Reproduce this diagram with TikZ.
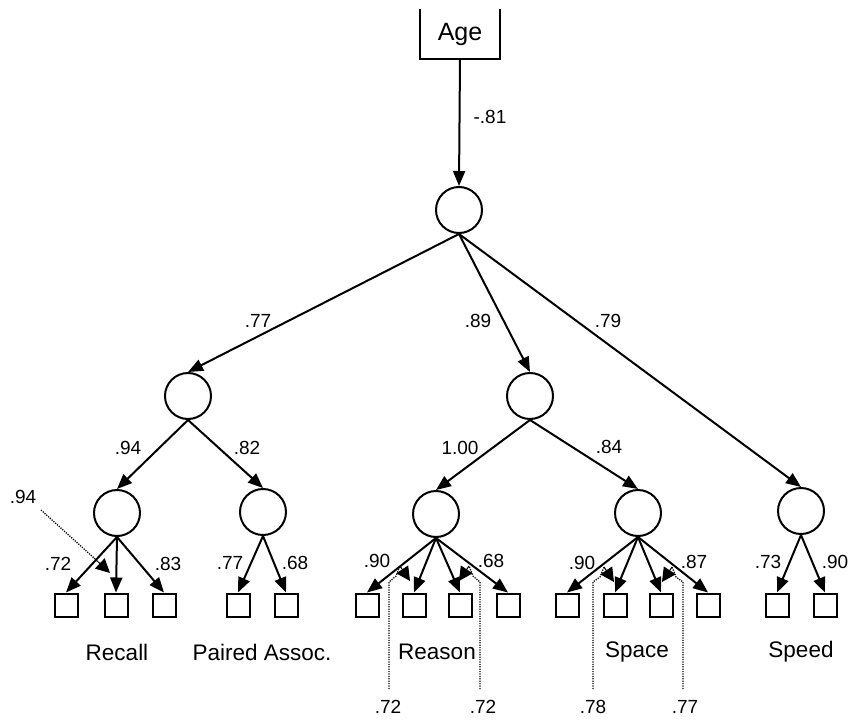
\documentclass[tikz,border=0pt]{standalone}
\usepackage{fontspec}
\setmainfont{Liberation Sans}
\usetikzlibrary{arrows.meta}
\begin{document}
\begin{tikzpicture}[x=1pt,y=-1pt,
 lat/.style={circle,draw,line width=2pt,minimum size=46pt,inner sep=0pt},
 obs/.style={rectangle,draw,line width=2pt,minimum size=23pt,inner sep=0pt},
 pth/.style={line width=2pt,-{Triangle[length=15pt,width=12pt]}},
 lead/.style={line width=1.3pt,dash pattern=on 1.2pt off 1.2pt},
 leadtip/.style={line width=1pt,solid,-{Triangle[length=14pt,width=14pt]}},
 num/.style={font=\fontsize{19}{21}\selectfont,inner sep=0pt},
 lab/.style={font=\fontsize{22.5}{25}\selectfont,inner sep=0pt}]
\useasboundingbox (0,0) rectangle (852,720);

% Age box (open top)
\node[minimum width=80pt,minimum height=49pt,inner sep=0pt,font=\fontsize{25}{27}\selectfont] (age) at (460,34) {Age};
\draw[line width=2pt] (age.north west) -- (age.south west) -- (age.south east) -- (age.north east);

% latent variables
\node[lat] (g) at (459,210) {};
\node[lat] (mem) at (188,396) {};
\node[lat] (rs) at (530,396) {};
\node[lat] (rec) at (117,513) {};
\node[lat] (pa) at (263,512) {};
\node[lat] (rea) at (436,514) {};
\node[lat] (spa) at (638,513) {};
\node[lat] (spd) at (801,511) {};

% observed variables
\foreach \n/\x in {rec1/66,rec2/116,rec3/164,pa1/238,pa2/286,rea1/367,rea2/414,rea3/460,rea4/508,spa1/567,spa2/615,spa3/661,spa4/708,spd1/777,spd2/825}
  \node[obs] (\n) at (\x,605) {};

% structural paths
\draw[pth] (age.south) -- (g.north);
\draw[pth] (g.south) -- (mem.north);
\draw[pth] (g.south) -- (rs.north);
\draw[pth] (g.south) -- (spd.north);
\draw[pth] (mem.south) -- (rec.north);
\draw[pth] (mem.south) -- (pa.north);
\draw[pth] (rs.south) -- (rea.north);
\draw[pth] (rs.south) -- (spa.north);

% measurement paths
\foreach \f/\o in {rec/rec1,rec/rec2,rec/rec3,pa/pa1,pa/pa2,rea/rea1,rea/rea2,rea/rea3,rea/rea4,spa/spa1,spa/spa2,spa/spa3,spa/spa4,spd/spd1,spd/spd2}
  \draw[pth] (\f.south) -- (\o.north);

% path labels
\node[num] at (490,117) {-.81};
\node[num] at (258,321) {.77};
\node[num] at (478,321) {.89};
\node[num] at (608,321) {.79};
\node[num] at (128,448) {.94};
\node[num] at (247,448) {.82};
\node[num] at (460,448) {1.00};
\node[num] at (609,447) {.84};
\node[num] at (58,564) {.72};
\node[num] at (168,564) {.83};
\node[num] at (230,563) {.77};
\node[num] at (295,563) {.68};
\node[num] at (377,561) {.90};
\node[num] at (491,561) {.68};
\node[num] at (582,563) {.90};
\node[num] at (694,562) {.87};
\node[num] at (768,562) {.73};
\node[num] at (835,562) {.90};

% leader labels
\node[num] (l94) at (23,497) {.94};
\node[num] (la) at (388,707) {.72};
\node[num] (lb) at (483,707) {.72};
\node[num] (lc) at (593,707) {.78};
\node[num] (ld) at (685,707) {.77};

% dotted leaders
\coordinate (s94) at (94,558);
\coordinate (t94) at (110,573);
\draw[lead] (41,510) -- (s94);
\draw[leadtip] (s94) -- (t94);

\coordinate (sa) at (400,566);
\coordinate (ta) at (410,581);
\draw[lead] (389,689) -- (389,582) -- (396,576) -- (sa);
\draw[leadtip] (sa) -- (ta);

\coordinate (sb) at (469,566);
\coordinate (tb) at (459,581);
\draw[lead] (480,689) -- (480,582) -- (473,576) -- (sb);
\draw[leadtip] (sb) -- (tb);

\coordinate (sc) at (604,567);
\coordinate (tc) at (614,582);
\draw[lead] (593,689) -- (593,582) -- (600,577) -- (sc);
\draw[leadtip] (sc) -- (tc);

\coordinate (sd) at (672,567);
\coordinate (td) at (662,582);
\draw[lead] (683,689) -- (683,582) -- (676,577) -- (sd);
\draw[leadtip] (sd) -- (td);

% group labels
\node[lab] at (117,652) {Recall};
\node[lab] at (262,652) {Paired Assoc.};
\node[lab] at (437,652) {Reason};
\node[lab] at (637,652) {Space};
\node[lab] at (801,652) {Speed};
\end{tikzpicture}
\end{document}
